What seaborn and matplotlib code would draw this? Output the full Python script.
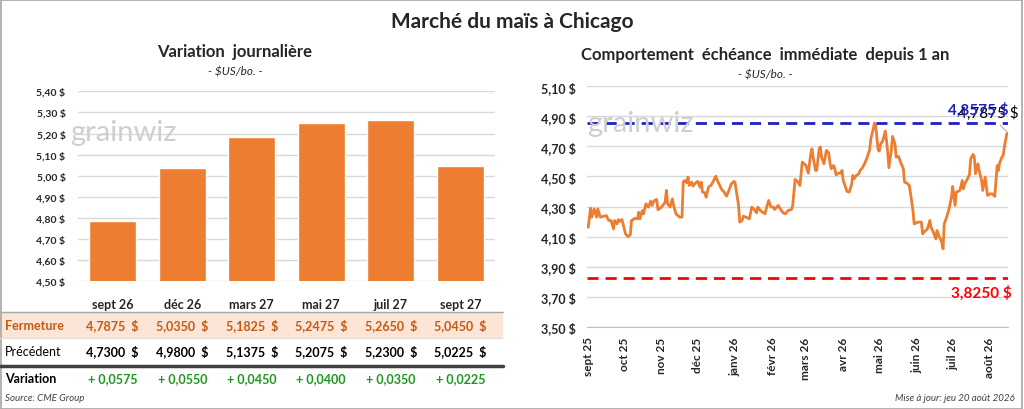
import pandas as pd
import matplotlib
matplotlib.use("Agg")
import matplotlib.pyplot as plt
from matplotlib.patches import Rectangle
from matplotlib.lines import Line2D
from matplotlib.transforms import blended_transform_factory
import seaborn as sns

# --- données : contrats à terme (panneau de gauche)
contrats = ["sept 26", "déc 26", "mars 27", "mai 27", "juil 27", "sept 27"]
fermeture = [4.7875, 5.0350, 5.1825, 5.2475, 5.2650, 5.0450]
precedent = [4.7300, 4.9800, 5.1375, 5.2075, 5.2300, 5.0225]
variation = [0.0575, 0.0550, 0.0450, 0.0400, 0.0350, 0.0225]

# --- données : échéance immédiate (jours depuis le 1er sept 2025)
jours = [0, 2, 3, 5, 7, 8, 10, 15, 17, 19, 21, 22, 24, 25, 26, 28, 29, 31, 33, 35,
         36, 39, 41, 42, 43, 45, 46, 48, 50, 52, 53, 55, 57, 58, 61, 64, 65, 66, 68, 70,
         71, 73, 76, 78, 79, 80, 82, 83, 84, 86, 87, 89, 91, 93, 94, 95, 97, 98, 100, 102,
         104, 106, 108, 111, 113, 115, 117, 119, 121, 122, 125, 126, 128, 129, 131, 134, 136, 138, 140, 141,
         142, 144, 147, 148, 150, 152, 154, 155, 158, 160, 162, 164, 166, 169, 170, 172, 174, 176, 178, 181,
         183, 185, 186, 187, 189, 190, 192, 193, 194, 196, 197, 198, 200, 201, 202, 204, 205, 206, 208, 210,
         211, 212, 214, 215, 217, 219, 220, 221, 223, 225, 226, 228, 230, 232, 234, 235, 237, 238, 239, 240,
         241, 242, 243, 245, 247, 248, 249, 250, 252, 253, 255, 256, 258, 260, 262, 263, 265, 267, 268, 270,
         271, 274, 277, 278, 280, 282, 284, 285, 287, 289, 290, 292, 294, 295, 296, 298, 300, 302, 303, 305,
         306, 308, 309, 311, 312, 313, 315, 317, 318, 320, 321, 322, 324, 325, 327, 328, 330, 332, 334, 336,
         338, 339, 340, 341, 342, 344, 345, 346, 348, 349]
prix = [4.162, 4.289, 4.229, 4.284, 4.229, 4.284, 4.229, 4.240, 4.207, 4.207, 4.151, 4.207, 4.184, 4.213, 4.200, 4.213, 4.184, 4.118, 4.100, 4.111,
        4.207, 4.222, 4.218, 4.262, 4.218, 4.273, 4.251, 4.318, 4.296, 4.336, 4.307, 4.340, 4.347, 4.278, 4.296, 4.329, 4.407, 4.318, 4.296, 4.351,
        4.307, 4.251, 4.229, 4.229, 4.462, 4.473, 4.458, 4.496, 4.440, 4.462, 4.436, 4.455, 4.467, 4.429, 4.462, 4.396, 4.391, 4.362, 4.429, 4.440,
        4.467, 4.502, 4.462, 4.413, 4.396, 4.369, 4.407, 4.451, 4.467, 4.462, 4.307, 4.196, 4.207, 4.236, 4.229, 4.218, 4.296, 4.280, 4.258, 4.296,
        4.284, 4.267, 4.251, 4.284, 4.340, 4.296, 4.296, 4.280, 4.307, 4.280, 4.258, 4.251, 4.273, 4.280, 4.307, 4.480, 4.467, 4.440, 4.596, 4.573,
        4.522, 4.651, 4.684, 4.629, 4.540, 4.540, 4.684, 4.696, 4.629, 4.584, 4.629, 4.673, 4.656, 4.589, 4.551, 4.573, 4.551, 4.511, 4.522, 4.522,
        4.540, 4.473, 4.429, 4.402, 4.396, 4.447, 4.507, 4.484, 4.507, 4.518, 4.540, 4.558, 4.589, 4.629, 4.678, 4.751, 4.818, 4.856, 4.840, 4.762,
        4.678, 4.669, 4.713, 4.740, 4.802, 4.740, 4.662, 4.558, 4.673, 4.767, 4.718, 4.629, 4.633, 4.589, 4.551, 4.462, 4.455, 4.440, 4.384, 4.273,
        4.184, 4.196, 4.196, 4.118, 4.136, 4.150, 4.207, 4.162, 4.129, 4.084, 4.140, 4.096, 4.062, 4.018, 4.184, 4.229, 4.284, 4.362, 4.433, 4.307,
        4.396, 4.402, 4.407, 4.473, 4.418, 4.451, 4.478, 4.513, 4.618, 4.647, 4.629, 4.518, 4.584, 4.540, 4.473, 4.407, 4.496, 4.373, 4.384, 4.384,
        4.367, 4.473, 4.573, 4.540, 4.589, 4.629, 4.640, 4.696, 4.784, 4.7875]
prix_max = 4.8575
prix_min = 3.8250
mois = ["sept 25", "oct 25", "nov 25", "déc 25", "janv 26", "févr 26",
        "mars 26", "avr 26", "mai 26", "juin 26", "juil 26", "août 26"]

ORANGE = "#ED7D31"
BRUN = "#C55A11"
VERT = "#1E961E"
GRILLE = "#D9D9D9"


def fr(v, dec=2):
    return f"{v:.{dec}f}".replace(".", ",")


sns.set_style("white")
plt.rcParams["font.family"] = ["Lato", "DejaVu Sans"]

W, H = 1024, 410
fig = plt.figure(figsize=(W / 100, H / 100), dpi=100)


def px(x, y):
    return x / W, 1 - y / H


# cadre
fig.add_artist(Rectangle((0.0005, 0.001), 0.998, 0.997, transform=fig.transFigure,
                         fill=False, edgecolor="#A6A6A6", lw=1.2))

fig.text(*px(512, 22), "Marché du maïs à Chicago", ha="center", va="center",
         fontsize=15, fontweight="bold")

# ---------------- panneau gauche : barres
ax1 = fig.add_axes([78 / W, 1 - 282.3 / H, 417 / W, 190 / H])
df_bar = pd.DataFrame({"contrat": contrats, "fermeture": fermeture})
sns.barplot(data=df_bar, x="contrat", y="fermeture", color=ORANGE, saturation=1,
            width=0.68, ax=ax1, zorder=3)
ax1.set_ylim(4.50, 5.40)
ax1.set_yticks([4.5 + 0.1 * i for i in range(10)])
ax1.set_yticklabels([fr(4.5 + 0.1 * i) + " $" for i in range(10)], fontsize=7.5,
                    fontweight="bold", color="#262626")
ax1.yaxis.grid(True, color=GRILLE, lw=1, zorder=0)
ax1.set_axisbelow(True)
ax1.tick_params(axis="y", length=0, pad=9)
ax1.tick_params(axis="x", length=0, pad=12)
for t in ax1.get_xticklabels():
    t.set_fontweight("bold")
    t.set_fontsize(9)
ax1.set_xlabel("")
ax1.set_ylabel("")
sns.despine(ax=ax1, left=True, bottom=True)

fig.text(*px(235, 52), "Variation  journalière", ha="center", va="center",
         fontsize=12, fontweight="bold")
fig.text(*px(235, 72), "- $US/bo. -", ha="center", va="center", fontsize=8.5,
         style="italic")
fig.text(*px(70, 133), "grainwiz", ha="left", va="center", fontsize=21,
         color="#CFCFCF", zorder=0)

# tableau sous les barres
fig.add_artist(Rectangle(px(0, 339), 503 / W, 26 / H, transform=fig.transFigure,
                         facecolor="#FCE4D6", edgecolor="none", zorder=0))
fig.add_artist(Line2D([0, 503 / W], [1 - 313 / H] * 2, transform=fig.transFigure,
                      color="#A6A6A6", lw=1))
fig.add_artist(Line2D([0, 503 / W], [1 - 339 / H] * 2, transform=fig.transFigure,
                      color="#E0E0E0", lw=0.8))
fig.add_artist(Line2D([0, 503 / W], [1 - 367 / H] * 2, transform=fig.transFigure,
                      color="#404040", lw=2.5))

tr = blended_transform_factory(ax1.transData, fig.transFigure)
lignes = [(326, "Fermeture", fermeture, BRUN, "bold", "bold"),
          (352, "Précédent", precedent, "black", "normal", "bold"),
          (379, "Variation", variation, VERT, "bold", "bold")]
for y, nom, vals, coul, poids_nom, poids_val in lignes:
    fig.text(5 / W, 1 - y / H, nom, ha="left", va="center", fontsize=9,
             fontweight=poids_nom, color=BRUN if nom == "Fermeture" else "black")
    for i, v in enumerate(vals):
        txt = "+ " + fr(v, 4) if nom == "Variation" else fr(v, 4) + "  $"
        fig.text(i, 1 - y / H, txt, transform=tr, ha="center", va="center",
                 fontsize=9, fontweight=poids_val, color=coul)

fig.text(*px(5, 399), "Source: CME Group", ha="left", va="center", fontsize=7,
         style="italic", color="#404040")
fig.text(*px(1015, 399), "Mise à jour: jeu 20 août 2026", ha="right", va="center",
         fontsize=7, style="italic", color="#404040")

# ---------------- panneau droit : échéance immédiate
debut = pd.Timestamp("2025-09-01")
df_ligne = pd.DataFrame({"date": debut + pd.to_timedelta(jours, unit="D"), "prix": prix})

ax2 = fig.add_axes([587 / W, 1 - 327.7 / H, 421 / W, 240.4 / H])
sns.lineplot(data=df_ligne, x="date", y="prix", color=ORANGE, lw=2, ax=ax2, zorder=3)
x0 = debut - pd.Timedelta(days=1)
x1 = df_ligne["date"].iloc[-1]
ax2.set_xlim(x0, x1)
ax2.set_ylim(3.50, 5.10)
yt = [3.5 + 0.2 * i for i in range(9)]
ax2.set_yticks(yt)
ax2.set_yticklabels([fr(v) + " $" for v in yt], fontsize=9, fontweight="bold",
                    color="#262626")
ax2.yaxis.grid(True, color=GRILLE, lw=1, zorder=0)
ax2.set_axisbelow(True)
ticks_mois = pd.date_range("2025-09-01", periods=len(mois), freq="MS")
ax2.set_xticks(ticks_mois)
ax2.set_xticklabels(mois, rotation=90, fontsize=8.5, fontweight="bold")
ax2.tick_params(axis="x", length=4, width=0.8, color="#BFBFBF", pad=3, direction="out")
ax2.tick_params(axis="y", length=0, pad=8)
ax2.set_xlabel("")
ax2.set_ylabel("")
sns.despine(ax=ax2, left=True)
ax2.spines["bottom"].set_color("#BFBFBF")

ax2.axhline(prix_max, color="#2020C0", lw=2, ls=(0, (4, 2.5)), zorder=4)
ax2.axhline(prix_min, color="#FF0000", lw=2, ls=(0, (4, 2.5)), zorder=4)
ax2.annotate(fr(prix_max, 4) + " $", xy=(x1, prix_max), xytext=(0, 4),
             textcoords="offset points", ha="right", va="bottom", fontsize=11,
             fontweight="bold", color="#2020C0", zorder=5)
ax2.annotate(fr(prix_min, 4) + " $", xy=(x1, prix_min), xytext=(3, -5),
             textcoords="offset points", ha="right", va="top", fontsize=11,
             fontweight="bold", color="#FF0000", annotation_clip=False)
ax2.annotate(fr(prix[-1], 4) + " $", xy=(x1, prix[-1]), xytext=(-14, 15),
             textcoords="offset points", ha="center", va="center", fontsize=11,
             color="black", annotation_clip=False,
             arrowprops=dict(arrowstyle="-", color="#A6A6A6", lw=0.7,
                             shrinkA=2, shrinkB=0))

fig.text(*px(765, 55), "Comportement  échéance  immédiate  depuis 1 an", ha="center",
         va="center", fontsize=12, fontweight="bold")
fig.text(*px(765, 75), "- $US/bo. -", ha="center", va="center", fontsize=8.5,
         style="italic")
fig.text(*px(587, 124), "grainwiz", ha="left", va="center", fontsize=21,
         color="#CFCFCF", zorder=0)

fig.savefig("out.png", dpi=100)
